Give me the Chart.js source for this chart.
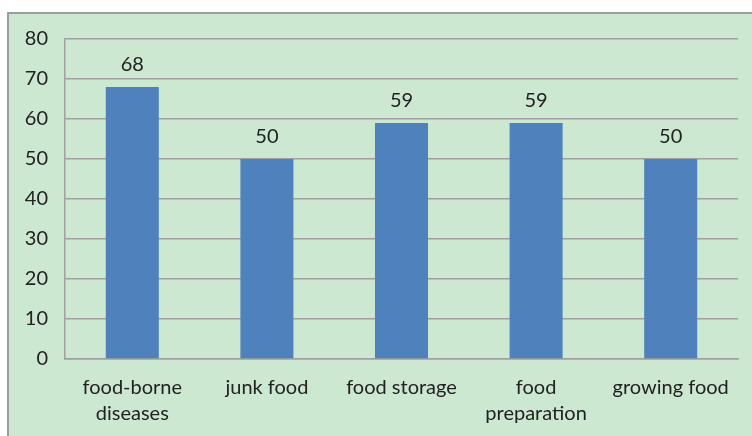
<!DOCTYPE html>
<html><head><meta charset="utf-8">
<script src="https://cdn.jsdelivr.net/npm/chart.js@4"></script>
<style>html,body{margin:0;padding:0;background:#fff;}#wrap{width:752px;height:436px;position:relative;}</style>
</head><body><div id="wrap"><canvas id="c" width="752" height="436"></canvas></div>
<script>
const categories = [["food-borne","diseases"],"junk food","food storage",["food","preparation"],"growing food"];
const values = [68,50,59,59,50];
const yTicks = [0,10,20,30,40,50,60,70,80];
const FONT = "Lato, 'Open Sans', sans-serif";
const TXT = '#222222';

const bgPlugin = {
  id:'bg',
  beforeDraw(chart){
    const ctx = chart.ctx;
    ctx.save();
    ctx.fillStyle='#fff'; ctx.fillRect(0,0,752,436);
    ctx.fillStyle='#CDE8D0'; ctx.fillRect(8,13,744,423);
    ctx.fillStyle='#9C9C9C'; ctx.fillRect(8,12,744,2); ctx.fillRect(7,12,2,424);
    ctx.restore();
  }
};
const labelPlugin = {
  id:'lbl',
  afterDatasetsDraw(chart){
    const ctx=chart.ctx; const meta=chart.getDatasetMeta(0);
    ctx.save(); ctx.fillStyle=TXT; ctx.font="20px "+FONT; ctx.textAlign='center'; ctx.textBaseline='alphabetic';
    meta.data.forEach((b,i)=>{ ctx.fillText(String(values[i]), b.x, b.y-16); });
    ctx.restore();
  }
};
new Chart(document.getElementById('c'),{
  type:'bar',
  data:{labels:categories,datasets:[{data:values,backgroundColor:'#4F81BD',borderWidth:0,barPercentage:0.394,categoryPercentage:1}]},
  options:{
    responsive:false,animation:false,devicePixelRatio:1,
    layout:{padding:{top:39,right:14,left:0,bottom:0}},
    plugins:{legend:{display:false},tooltip:{enabled:false}},
    scales:{
      x:{grid:{display:false,drawTicks:false},border:{display:true,color:'#A0A0A0',width:1.5},
         ticks:{color:TXT,font:{family:FONT,size:20,lineHeight:1.3},padding:16,maxRotation:0,autoSkip:false},
         afterFit(s){s.height=77;}},
      y:{min:0,max:80,afterBuildTicks(s){s.ticks=yTicks.map(v=>({value:v}));},
         grid:{color:'#A0A0A0',lineWidth:1.5,drawTicks:false},border:{display:true,color:'#A0A0A0',width:1.5},
         ticks:{color:TXT,font:{family:FONT,size:20},padding:17},
         afterFit(s){s.width=65;}}
    }
  },
  plugins:[bgPlugin,labelPlugin]
});
</script></body></html>
